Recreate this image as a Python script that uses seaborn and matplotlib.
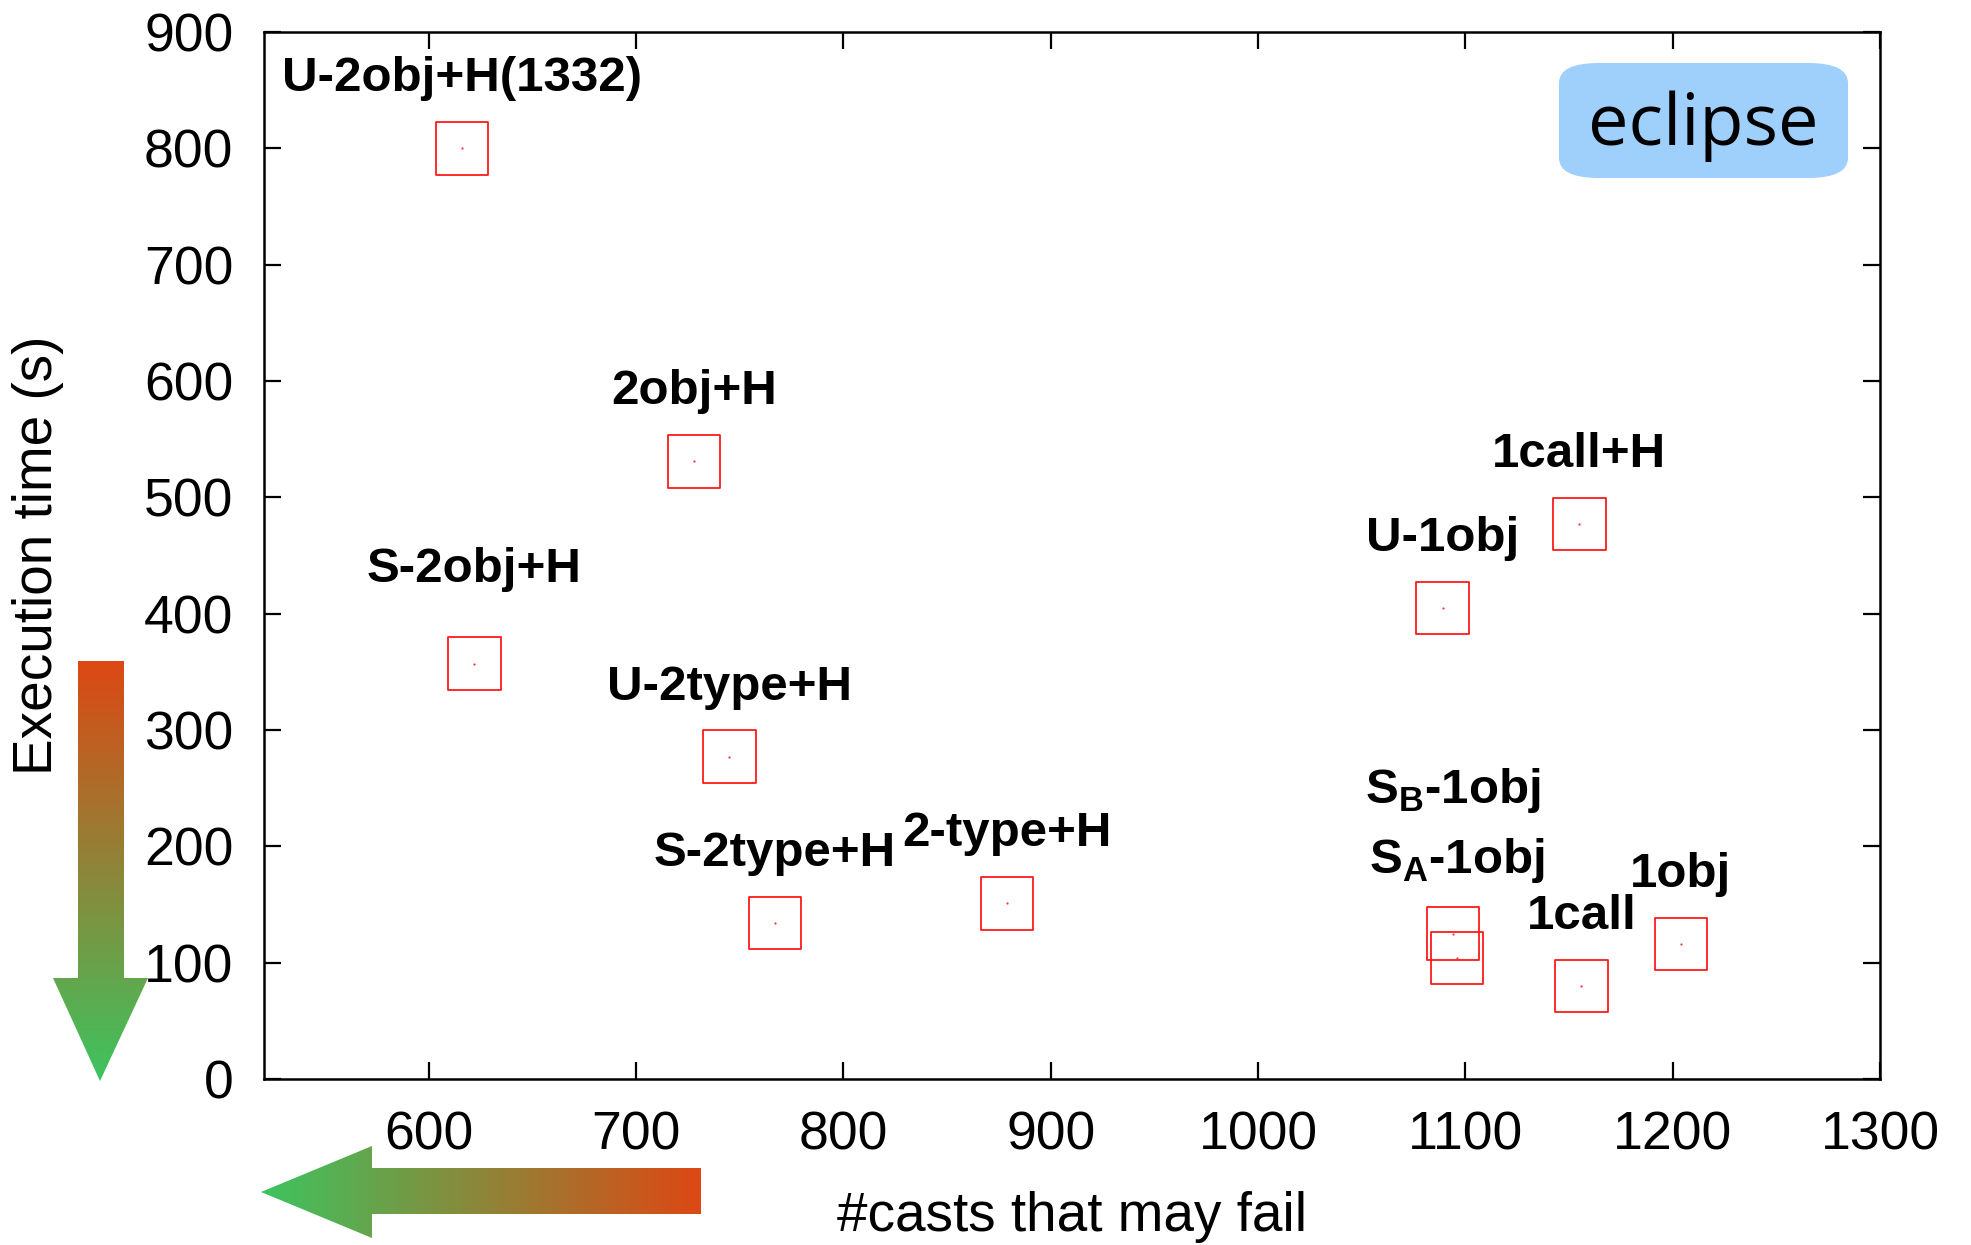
import numpy as np
import pandas as pd
import matplotlib
matplotlib.use("Agg")
import matplotlib.pyplot as plt
from matplotlib.patches import Polygon, FancyBboxPatch
import seaborn as sns

# ---- data ----
methods = ["U-2obj+H(1332)", "2obj+H", "S-2obj+H", "U-2type+H", "S-2type+H",
           "2-type+H", "U-1obj", "1call+H", "S_B-1obj", "S_A-1obj", "1call", "1obj"]
casts = [616, 728, 622, 745, 767, 879, 1089, 1155, 1094, 1096, 1156, 1204]
times = [800, 531, 357, 277, 134, 151, 405, 477, 125, 104, 80, 116]
x_ticks = [600, 700, 800, 900, 1000, 1100, 1200, 1300]
y_ticks = [0, 100, 200, 300, 400, 500, 600, 700, 800, 900]

display_labels = {"S_B-1obj": r"S$_\mathbf{B}$-1obj", "S_A-1obj": r"S$_\mathbf{A}$-1obj"}
# label offsets above point (points)
label_dy = {"S-2obj+H": 68, "S_B-1obj": 103, "S_A-1obj": 70}

df = pd.DataFrame({"method": methods, "casts": casts, "time": times})

sns.set_theme(style="ticks")
plt.rcParams["font.family"] = ["Liberation Sans", "DejaVu Sans"]
plt.rcParams["mathtext.fontset"] = "custom"
plt.rcParams["mathtext.bf"] = "Liberation Sans:bold"
plt.rcParams["mathtext.rm"] = "Liberation Sans"
plt.rcParams["text.color"] = "black"
plt.rcParams["axes.labelcolor"] = "black"

W, H = 1971, 1245
fig = plt.figure(figsize=(W / 100, H / 100), dpi=100)

# overlay axes in pixel coords (y up), drawn behind main axes
ov = fig.add_axes([0, 0, 1, 1], zorder=0)
ov.set_xlim(0, W)
ov.set_ylim(0, H)
ov.axis("off")

ax = fig.add_axes([264 / W, (H - 1079) / H, (1880 - 264) / W, (1079 - 32) / H], zorder=1)
ax.patch.set_alpha(0)

sns.scatterplot(data=df, x="casts", y="time", marker="s", s=1430,
                facecolors="none", edgecolors="#ff1a1a", linewidth=1.3, ax=ax, zorder=3)
sns.scatterplot(data=df, x="casts", y="time", marker="o", s=2.5,
                color="#ff3030", linewidth=0, ax=ax, zorder=3)

for m, xv, yv in zip(methods, casts, times):
    ax.annotate(display_labels.get(m, m), (xv, yv), xytext=(0, label_dy.get(m, 50)),
                textcoords="offset points", ha="center", va="center",
                fontsize=35.5, fontweight="bold", color="black")

ax.set_xlim(520.6, 1300)
ax.set_ylim(0, 900)
ax.set_xticks(x_ticks)
ax.set_yticks(y_ticks)
ax.tick_params(direction="in", length=12, width=1.6, top=True, right=True,
               labelsize=38.5, colors="black")
ax.tick_params(axis="x", pad=23)
ax.tick_params(axis="y", pad=22)
for s in ax.spines.values():
    s.set_linewidth(1.8)
    s.set_color("black")
    s.set_visible(True)

ax.set_xlabel("#casts that may fail", fontsize=39.5, color="black")
ax.set_ylabel("Execution time (s)", fontsize=39.5, color="black")
ax.xaxis.set_label_coords(0.5, -0.1318)
ax.yaxis.set_label_coords(-0.1399, 0.5)
ax.xaxis.label.set_va("center")
ax.yaxis.label.set_va("center")

# ---- gradient arrows ----
c_red = np.array([221, 72, 20]) / 255
c_green = np.array([61, 196, 95]) / 255

def gradient_arrow(poly_pts, direction):
    pts = np.array([(x, H - y) for x, y in poly_pts])
    x0, x1 = pts[:, 0].min(), pts[:, 0].max()
    y0, y1 = pts[:, 1].min(), pts[:, 1].max()
    t = np.linspace(0, 1, 256)
    cols = c_green[None, :] * (1 - t[:, None]) + c_red[None, :] * t[:, None]
    if direction == "down":   # red at top, green at bottom
        img = cols[:, None, :]
    else:                     # green at left, red at right
        img = cols[None, :, :]
    poly = Polygon(pts, closed=True, facecolor="none", edgecolor="none")
    ov.add_patch(poly)
    im = ov.imshow(img, extent=(x0, x1, y0, y1), origin="lower", aspect="auto",
                   interpolation="bilinear")
    im.set_clip_path(poly)

gradient_arrow([(78, 661), (124, 661), (124, 978), (148, 978), (100, 1081),
                (53, 978), (78, 978)], "down")
gradient_arrow([(701, 1168), (701, 1214), (372, 1214), (372, 1238), (261, 1192),
                (372, 1146), (372, 1168)], "left")
ov.set_xlim(0, W)
ov.set_ylim(0, H)

# ---- eclipse tag ----
box = FancyBboxPatch((1559, H - 178), 289, 115,
                     boxstyle="round,pad=0,rounding_size=40", mutation_aspect=0.5,
                     facecolor="#9fcffb", edgecolor="none", zorder=2)
ov.add_patch(box)
ov.text(1703, H - 126, "eclipse", fontsize=52, family=["Open Sans", "DejaVu Sans"],
        ha="center", va="center", color="black", zorder=3)

fig.savefig("out.png", dpi=100)
